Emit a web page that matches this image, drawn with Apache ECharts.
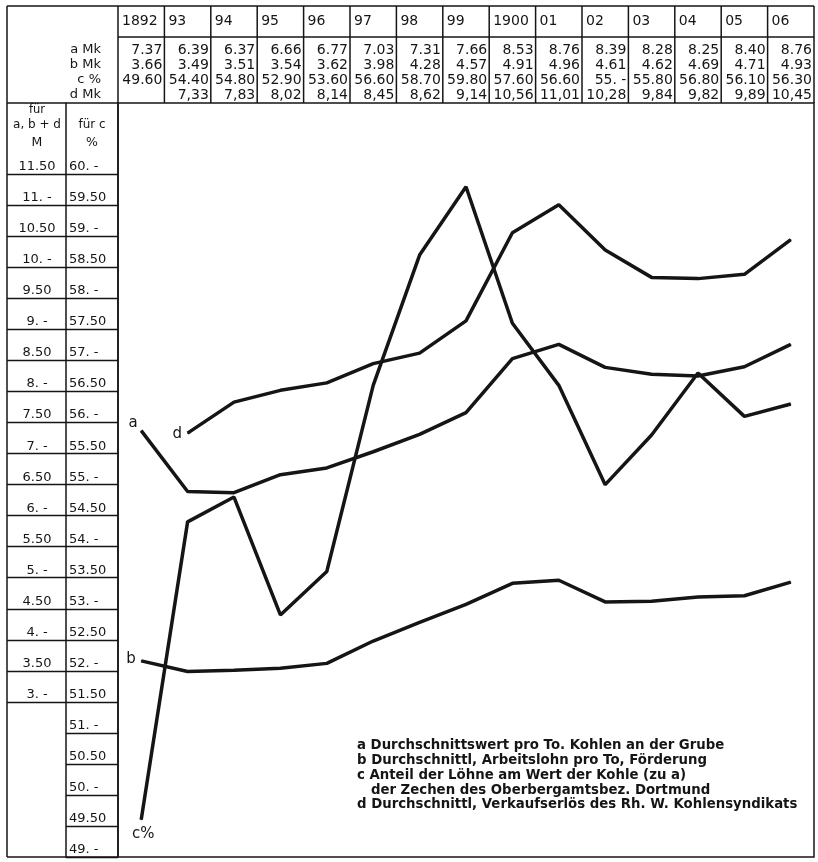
<!DOCTYPE html>
<html>
<head>
<meta charset="utf-8">
<script src="https://cdn.jsdelivr.net/npm/echarts@6/dist/echarts.min.js"></script>
<style>
html, body { margin: 0; padding: 0; background: #fff; }
#main { width: 818px; height: 862px; }
</style>
</head>
<body>
<div id="main"></div>
<script>
// Jahre und Werte (aus der Tabelle)
let years = ['1892', '93', '94', '95', '96', '97', '98', '99', '1900', '01', '02', '03', '04', '05', '06'];
let aVals = [7.37, 6.39, 6.37, 6.66, 6.77, 7.03, 7.31, 7.66, 8.53, 8.76, 8.39, 8.28, 8.25, 8.40, 8.76];
let bVals = [3.66, 3.49, 3.51, 3.54, 3.62, 3.98, 4.28, 4.57, 4.91, 4.96, 4.61, 4.62, 4.69, 4.71, 4.93];
let cVals = [49.60, 54.40, 54.80, 52.90, 53.60, 56.60, 58.70, 59.80, 57.60, 56.60, 55.00, 55.80, 56.80, 56.10, 56.30];
let dVals = [null, 7.33, 7.83, 8.02, 8.14, 8.45, 8.62, 9.14, 10.56, 11.01, 10.28, 9.84, 9.82, 9.89, 10.45];

let rowNames = ['a Mk', 'b Mk', 'c %', 'd Mk'];
let mTicks = [11.5, 11, 10.5, 10, 9.5, 9, 8.5, 8, 7.5, 7, 6.5, 6, 5.5, 5, 4.5, 4, 3.5, 3];
let cTicks = [60, 59.5, 59, 58.5, 58, 57.5, 57, 56.5, 56, 55.5, 55, 54.5, 54, 53.5, 53, 52.5, 52, 51.5, 51, 50.5, 50, 49.5, 49];

let legendLines = [
    'a Durchschnittswert pro To. Kohlen an der Grube',
    'b Durchschnittl, Arbeitslohn pro To, Förderung',
    'c Anteil der Löhne am Wert der Kohle (zu a)',
    '   der Zechen des Oberbergamtsbez. Dortmund',
    'd Durchschnittl, Verkaufserlös des Rh. W. Kohlensyndikats'
];

const FONT = 'DejaVu Sans';
const INK = '#151515';

let myChart = echarts.init(document.getElementById('main'));

function tickText(v) {
    return Number.isInteger(v) ? v + '. -' : v.toFixed(2);
}

// erste Stelle bekommt den Buchstaben als Label
function lineData(vals, text, pos, offset) {
    let first = vals.findIndex(v => v !== null);
    return vals.map(function (v, i) {
        if (i !== first) return v;
        return {
            value: v,
            label: { show: true, formatter: text, position: pos, offset: offset,
                     color: INK, fontFamily: FONT, fontSize: 15 }
        };
    });
}

function series(name, vals, yIdx, text, pos, offset) {
    return {
        name: name,
        type: 'line',
        yAxisIndex: yIdx,
        symbol: 'circle',
        symbolSize: 1,
        showSymbol: true,
        itemStyle: { color: INK },
        lineStyle: { color: INK, width: 3.5 },
        data: lineData(vals, text, pos, offset),
        z: 3
    };
}

let option = {
    backgroundColor: '#fff',
    animation: false,
    grid: {
        left: 118, right: 4, top: 103, bottom: 5,
        show: true, borderColor: INK, borderWidth: 1.5,
        outerBoundsMode: 'none'
    },
    xAxis: {
        type: 'category',
        data: years,
        boundaryGap: true,
        axisLine: { show: false },
        axisTick: { show: false },
        axisLabel: { show: false },
        splitLine: { show: false }
    },
    yAxis: [
        {   // für a, b + d  (M)
            type: 'value', min: 0.5, max: 12.65, position: 'left', offset: 52,
            axisLine: { show: true, lineStyle: { color: INK, width: 1.5 } },
            axisTick: { show: true, customValues: mTicks, length: 59, inside: false,
                        lineStyle: { color: INK, width: 1.3 } },
            axisLabel: { show: true, customValues: mTicks, formatter: tickText,
                         align: 'center', verticalAlign: 'bottom', margin: 29,
                         color: INK, fontFamily: FONT, fontSize: 13, padding: [0, 0, 1, 0] },
            splitLine: { show: false }
        },
        {   // für c  (%)
            type: 'value', min: 49, max: 61.15, position: 'left', offset: 0,
            axisLine: { show: true, lineStyle: { color: INK, width: 1.5 } },
            axisTick: { show: true, customValues: cTicks, length: 52, inside: false,
                        lineStyle: { color: INK, width: 1.3 } },
            axisLabel: { show: true, customValues: cTicks, formatter: tickText,
                         align: 'left', verticalAlign: 'bottom', margin: 49,
                         color: INK, fontFamily: FONT, fontSize: 13, padding: [0, 0, 1, 0] },
            splitLine: { show: false }
        }
    ],
    series: [
        series('a', aVals, 0, 'a', 'left', [2, -8]),
        series('b', bVals, 0, 'b', 'left', [0, -2]),
        series('c', cVals, 1, 'c%', 'bottom', [2, 1]),
        series('d', dVals, 0, 'd', 'left', [0, 1])
    ]
};

myChart.setOption(option);

// Tabelle oben, Rahmen und Erläuterung
let g = [];
let line = (x1, y1, x2, y2) => g.push({ type: 'line', shape: { x1: x1, y1: y1, x2: x2, y2: y2 },
    style: { stroke: INK, lineWidth: 1.5 }, silent: true });
let text = (t, x, y, align, size, weight) => g.push({ type: 'text', x: x, y: y,
    style: { text: t, fill: INK, font: (weight || 'normal') + ' ' + (size || 13) + 'px "' + FONT + '"',
             align: align || 'left', verticalAlign: 'middle' }, silent: true });

let cx = years.map((y, i) => myChart.convertToPixel({ xAxisIndex: 0 }, i));
let half = (cx[1] - cx[0]) / 2;
let leftX = 7, plotL = cx[0] - half, plotR = cx[cx.length - 1] + half;
let topY = 6, yearY = 37, tabB = 103, botY = 857;

line(leftX, topY, plotR, topY);
line(plotL, yearY, plotR, yearY);
line(leftX, tabB, plotL, tabB);
line(leftX, botY, plotL, botY);
line(leftX, topY, leftX, botY);
cx.forEach(c => line(c - half, topY, c - half, tabB));
line(plotR, topY, plotR, tabB);

let rowY = [50, 65, 80, 95];
rowNames.forEach((n, r) => text(n, plotL - 17, rowY[r], 'right', 13));

let rows = [
    aVals.map(v => v.toFixed(2)),
    bVals.map(v => v.toFixed(2)),
    cVals.map(v => Number.isInteger(v) ? v + '. -' : v.toFixed(2)),
    dVals.map(v => v === null ? '' : v.toFixed(2).replace('.', ','))
];
years.forEach(function (yr, i) {
    text(yr, cx[i] - half + 4, 21, 'left', 14);
    rows.forEach((row, r) => text(row[i], cx[i] + half - 2, rowY[r], 'right', 14));
});

let colA = 37, colC = 92;
text('für', colA, 110, 'center', 11.5);
text('a, b + d', colA, 125, 'center', 12);
text('M', colA, 143, 'center', 12.5);
text('für c', colC, 125, 'center', 12);
text('%', colC, 143, 'center', 12.5);

legendLines.forEach((t, i) => text(t, 357, 746 + i * 14.7, 'left', 13.3, 'bold'));

myChart.setOption({ graphic: g });
</script>
</body>
</html>
